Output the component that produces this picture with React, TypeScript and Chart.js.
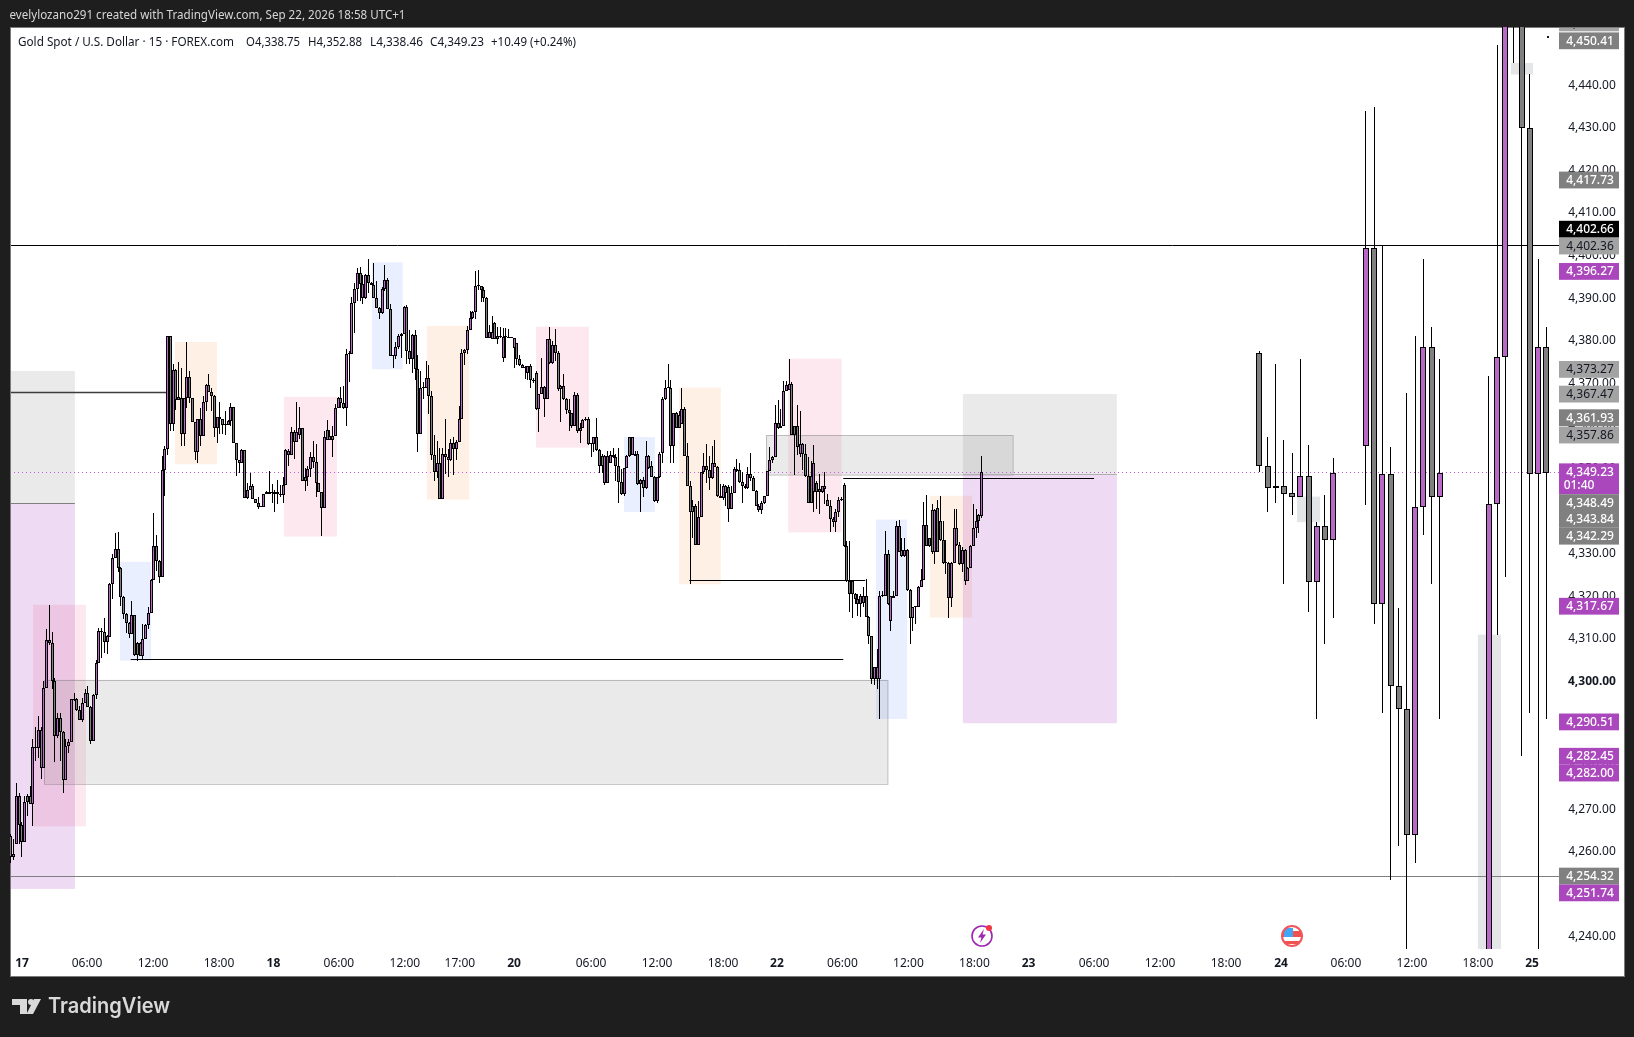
import { useEffect, useRef } from "react";
import { Chart, registerables } from "chart.js";

Chart.register(...registerables);

// 15m candles
const opens = [
  4263.8, 4258.7, 4261.8, 4273.1, 4266.3, 4262.4, 4273.2, 4273.2, 4271.3, 4284.7, 4284.3, 4288.6, 4279.8, 4298.4, 4309.7, 4309,
  4300, 4287.1, 4291.4, 4288.2, 4276.8, 4284.8, 4285.7, 4295.8, 4295.8, 4293.3, 4291, 4294.9, 4297.2, 4294, 4286.1, 4296.8,
  4304.3, 4311.9, 4311.7, 4309.2, 4310.5, 4322.8, 4328.9, 4331, 4326.7, 4319.9, 4315.8, 4313.7, 4311.2, 4315.5, 4309, 4309,
  4306, 4309.9, 4313.2, 4316, 4323.8, 4331.8, 4328.3, 4324.6, 4349.6, 4354.5, 4381.1, 4360.4, 4373.1, 4366.7, 4366.5, 4358,
  4366.5, 4371.5, 4366.5, 4360.9, 4353.8, 4361.6, 4357.7, 4365.6, 4369.6, 4367.9, 4367.1, 4359.6, 4362, 4361.6, 4360.3, 4360.2,
  4361.2, 4364.4, 4355.9, 4352, 4351.2, 4354.3, 4343, 4344.9, 4345.8, 4342.9, 4341.9, 4341.1, 4341, 4344, 4344.4, 4344.4,
  4344.6, 4344.6, 4344, 4343.7, 4346.1, 4354.2, 4353.1, 4358.5, 4356.2, 4357.8, 4359.6, 4347.9, 4347.9, 4350, 4352.6, 4351.5,
  4346.5, 4344.4, 4340.7, 4359, 4356.7, 4357.6, 4357.6, 4364.3, 4366.5, 4365.3, 4364.3, 4376.8, 4377, 4388.8, 4392.1, 4395.9,
  4390.1, 4390.1, 4395.5, 4393.5, 4393, 4390.1, 4387.6, 4386.5, 4392.1, 4394.2, 4387.4, 4376.5, 4376.4, 4378.6,
  4381, 4381.5, 4388, 4377.5, 4375.7, 4381.3, 4373.3, 4358.1, 4368.9, 4368.8, 4371.2, 4367.1, 4353.1, 4349.1, 4351.3, 4342.8,
  4353.4, 4352.6, 4352, 4356, 4354.5, 4356.3, 4361.6, 4377.2, 4377.8, 4382.5, 4385.3, 4386.7, 4392.9, 4392.8, 4391.9, 4390.1,
  4380.6, 4380.4, 4384.1, 4381, 4381, 4375.9, 4381.2, 4380.9, 4380.7, 4378.4, 4379.4, 4375.7, 4374.3, 4373.7, 4372.5, 4374,
  4370.7, 4372.5, 4363.9, 4367.6, 4369.2, 4366.3, 4380.4, 4374.7, 4379, 4377.2, 4368.6, 4369.4, 4366.3, 4363.7, 4363, 4359.9,
  4367.2, 4358.7, 4359.6, 4361.3, 4361.6, 4355.8, 4355.7, 4357.3, 4354.3, 4353, 4346.7, 4353, 4351.4, 4353.2, 4352.7, 4350.6,
  4346.8, 4344, 4350.1, 4357.4, 4353.2, 4353.5, 4353.5, 4346.3, 4347.3, 4345.4, 4353, 4350.6, 4348.1, 4342.3, 4347.9,
  4353.6, 4366.3, 4369, 4368.9, 4355.2, 4363, 4362.6, 4360.4, 4364, 4353, 4346, 4341.3, 4341.3, 4332, 4338.5, 4349.1,
  4350.5, 4349.6, 4347.8, 4351.3, 4350.4, 4343.6, 4343, 4345.8, 4345.6, 4340.5, 4344.2, 4349.9, 4349.6, 4346.9, 4345.4, 4345.4,
  4348.7, 4347.8, 4344.8, 4341.1, 4340.2, 4341.9, 4343.5, 4349.3, 4352, 4352.6, 4360.8, 4360, 4360, 4368.1, 4368.4, 4369.8,
  4359.9, 4360, 4353.4, 4355.7, 4353.4, 4348.3, 4348.3, 4344.6, 4346.7, 4345.2, 4344.4, 4345.8, 4342.6, 4341.3, 4338.1, 4337.4,
  4339.9, 4342.6, 4346.1, 4331.9, 4323.6, 4323.6, 4320.5, 4319.4, 4318.2, 4320, 4320, 4315.2, 4310.7, 4300.7, 4303.5, 4300.7,
  4320.1, 4320, 4329.9, 4314.1, 4320.1, 4320, 4336.5, 4330.9, 4329.5, 4330.9, 4321.5, 4314.8, 4317.5, 4317.4, 4322.3, 4323.8,
  4336.7, 4333.7, 4340.2, 4330.3, 4340.7, 4337.7, 4333.3, 4327.9, 4327.8, 4319.7, 4327.8, 4336, 4332, 4327.6, 4330.9, 4323.5,
  4326.6, 4331.7, 4336, 4339.1, 4338.75,
];
const highs = [
  4264.2, 4263, 4276.1, 4273.8, 4266.9, 4273.1, 4273.6, 4275.5, 4286.4, 4289.3, 4292, 4289.2, 4300, 4312.3, 4318, 4311.6,
  4300.8, 4292.7, 4292.5, 4288.4, 4286.4, 4286.4, 4295.8, 4297.3, 4296.2, 4294.3, 4296.2, 4298.2, 4299, 4294.3, 4297, 4305,
  4312.5, 4312.5, 4314.8, 4310.8, 4323.1, 4329.9, 4334.9, 4335.1, 4326.9, 4320, 4316, 4314, 4318.9, 4315.5, 4309.2, 4309.2,
  4313.4, 4313.4, 4317.5, 4324, 4339.6, 4334.4, 4328.5, 4353, 4355.3, 4381.2, 4381.2, 4374.5, 4373.4, 4375, 4373.7, 4366.6,
  4379.7, 4372.8, 4366.6, 4361, 4361.7, 4364.2, 4367, 4369.8, 4372.2, 4369, 4367.2, 4362, 4365.6, 4361.7, 4363.5, 4361.5,
  4365.3, 4364.5, 4356.1, 4352.1, 4354.5, 4354.3, 4346.6, 4349, 4346.3, 4342.9, 4343.2, 4341.2, 4344.1, 4344.8, 4349.5, 4346.3,
  4345, 4347.3, 4346.1, 4348, 4354.5, 4354.5, 4359.8, 4359, 4365.7, 4364.5, 4359.6, 4350.2, 4350.6, 4353.8, 4356.5, 4355.7,
  4346.5, 4344.6, 4358.7, 4361.4, 4359, 4360, 4365.1, 4366.7, 4369.2, 4369.4, 4378, 4377.6, 4390.3, 4393.5, 4397, 4397.2,
  4395.5, 4395.6, 4399.1, 4393.9, 4398.3, 4394, 4387.8, 4392.5, 4397.8, 4394.8, 4388.6, 4376.6, 4379.6, 4381.5,
  4381.9, 4388.2, 4388.3, 4382.6, 4381.5, 4382.5, 4376.7, 4372.9, 4370.4, 4375.3, 4374.3, 4368.2, 4357.8, 4356.5, 4354.9, 4354.8,
  4361.6, 4354.5, 4356.9, 4357.3, 4356.7, 4364.7, 4378, 4378, 4383.5, 4387, 4387, 4396.4, 4396.6, 4392.8, 4392.6, 4390.3,
  4383.7, 4385.8, 4384.3, 4383.3, 4383.3, 4383.1, 4382.9, 4382.7, 4380.8, 4380.6, 4379.4, 4376.7, 4374.5, 4374.1, 4374.1, 4374.5,
  4371.3, 4372.9, 4367.6, 4375.9, 4369.4, 4380.4, 4383.3, 4380, 4382.7, 4377.6, 4369.6, 4372.3, 4366.5, 4366.3, 4363, 4368,
  4367.8, 4360.8, 4361.6, 4362, 4362, 4355.9, 4357.4, 4361.8, 4354.5, 4353.4, 4353.2, 4354.1, 4354.1, 4354.9, 4353.4, 4354.9,
  4349.8, 4350.2, 4353.2, 4357.4, 4357.4, 4354.1, 4354.1, 4347.5, 4347.9, 4356.5, 4353.2, 4351.8, 4348.3, 4348.1, 4353.8,
  4366.9, 4370.8, 4374.5, 4370.8, 4363, 4363.2, 4363.6, 4368.9, 4364.4, 4356, 4347.1, 4342.6, 4341.7, 4342.4, 4349.2, 4353.6,
  4355.7, 4353, 4355.4, 4356.7, 4350.7, 4346.4, 4346.4, 4346.2, 4346.2, 4346, 4350.4, 4352.2, 4351.2, 4349.1, 4346.4, 4350.4,
  4353.6, 4348.3, 4344.9, 4341.7, 4342.4, 4343.6, 4349.5, 4355, 4353, 4364.9, 4366, 4364, 4370.5, 4370.6, 4375.7, 4370.2,
  4360, 4365, 4363.6, 4356.1, 4355.7, 4352.6, 4351.8, 4355.6, 4347.1, 4348.7, 4346, 4349.1, 4344, 4342.6, 4338.5, 4340.5,
  4343.2, 4343.2, 4346.5, 4333, 4333, 4323.7, 4320.7, 4320.5, 4320.5, 4322.3, 4324, 4315.4, 4310.7, 4303.5, 4307.6, 4321.3,
  4321.3, 4335.4, 4330.9, 4320.1, 4321.3, 4337.7, 4337.9, 4333.8, 4333.8, 4331.1, 4321.7, 4317.6, 4317.6, 4322.5, 4326.4, 4342.2,
  4343.8, 4333.8, 4341.7, 4340.5, 4342.6, 4343.6, 4337.7, 4333.3, 4328, 4328, 4340.4, 4340.5, 4332.7, 4331.5, 4331.1, 4326.8,
  4332, 4341.7, 4340.5, 4339.3, 4352.88,
];
const lows = [
  4257.4, 4258, 4261.8, 4261.8, 4258.7, 4262.4, 4268.4, 4271.3, 4266.1, 4281.4, 4282, 4277, 4279.8, 4298.4, 4308.6, 4298.2,
  4281, 4286.8, 4281.4, 4273.9, 4276.8, 4283.1, 4285.7, 4295.4, 4293.1, 4291, 4290.4, 4294.9, 4293.9, 4285.4, 4286.1, 4296,
  4304.3, 4305.6, 4306.6, 4306.4, 4310.5, 4319.3, 4328.9, 4325.6, 4317.7, 4314.6, 4311.5, 4310.2, 4311.2, 4306, 4304.8, 4306,
  4305.2, 4309.9, 4312.3, 4316, 4323.8, 4326, 4323.2, 4324.6, 4343.6, 4353.2, 4358.9, 4358.9, 4363.7, 4366, 4355.3, 4355.3,
  4364.2, 4365.3, 4360.9, 4352, 4351.2, 4355.3, 4357.7, 4363.4, 4367.9, 4363.5, 4357.3, 4355.9, 4358, 4358, 4357.8, 4360.2,
  4360, 4355.9, 4348.3, 4349, 4351.2, 4343, 4342.8, 4344.9, 4342.9, 4341.9, 4340.5, 4341, 4341, 4344, 4344, 4341.8,
  4339.7, 4341.6, 4343.3, 4342, 4346.1, 4350.6, 4353.1, 4352.2, 4356.2, 4356.9, 4347, 4344.8, 4345.8, 4348, 4350.2, 4343.2,
  4344.4, 4334.2, 4340.7, 4356.7, 4356.7, 4352.7, 4357.6, 4364.3, 4364.3, 4363.9, 4360, 4370.4, 4377, 4381.7, 4389.4, 4389.4,
  4388.7, 4389.8, 4391.3, 4393, 4390.1, 4387.6, 4385, 4386.2, 4391.7, 4387.4, 4376.4, 4373.6, 4375.7, 4378,
  4376, 4381.5, 4374.5, 4374.5, 4372.5, 4370.7, 4353.8, 4358.1, 4366.3, 4368.8, 4362.9, 4352, 4347.1, 4347.7, 4342.8, 4342.8,
  4348.7, 4347.9, 4351.8, 4348.5, 4352, 4356.3, 4361.6, 4374.3, 4376.8, 4382.5, 4385.2, 4385.2, 4391.9, 4389, 4389, 4380.6,
  4380.6, 4380.4, 4380.4, 4379.2, 4380.6, 4374.9, 4376, 4380.6, 4380.6, 4373.6, 4374.3, 4374.1, 4373.6, 4371, 4370.7, 4368.8,
  4370.1, 4363.7, 4358.5, 4367.6, 4362.2, 4366.3, 4374.5, 4374.5, 4375.3, 4368.2, 4361, 4366.1, 4362.8, 4358.8, 4359.6, 4359.9,
  4358.4, 4355.9, 4359.4, 4361.2, 4355.5, 4352.6, 4353.8, 4354.1, 4349, 4349, 4346.2, 4346.7, 4351.4, 4352.4, 4347.1, 4341.8,
  4343.8, 4343.5, 4350.1, 4352.7, 4353.2, 4353, 4346.2, 4339.9, 4343.2, 4345.2, 4350, 4347.9, 4342.2, 4341.8, 4347.7,
  4351.4, 4366.1, 4368.9, 4351.4, 4351.2, 4359.5, 4359.5, 4360.4, 4353, 4346, 4322.8, 4333.8, 4332, 4332, 4338.5, 4348.7,
  4346.5, 4345, 4347.5, 4350.4, 4343.2, 4343, 4342.7, 4341.3, 4337.4, 4340.5, 4344.2, 4349.1, 4346.7, 4342, 4345.2, 4345.2,
  4347.1, 4344.8, 4341.1, 4339.7, 4339.3, 4341.7, 4343.5, 4349.3, 4351.4, 4352.6, 4359.3, 4359.5, 4360, 4368.1, 4368.4, 4357.9,
  4348.5, 4353.2, 4352.6, 4349.6, 4347.9, 4342, 4342, 4339.9, 4340.5, 4339.3, 4344.2, 4341.7, 4341.3, 4335, 4336.2, 4335,
  4338.5, 4342.4, 4331.6, 4323.3, 4316.2, 4315, 4318.2, 4315.4, 4315.2, 4317.6, 4315.2, 4308.8, 4299.4, 4299.2, 4298.2, 4291.3,
  4319.8, 4320, 4318, 4311.9, 4319.7, 4320, 4330.3, 4329.3, 4329.3, 4321.3, 4308.9, 4311.9, 4313.6, 4317.4, 4322.3, 4323.8,
  4331.7, 4331.5, 4329.9, 4327.7, 4330.3, 4333, 4327.6, 4325.2, 4315, 4317.6, 4327.8, 4331.9, 4327.4, 4325.6, 4322.6, 4323.5,
  4326.6, 4331.7, 4333.8, 4334.9, 4338.46,
];
const closes = [
  4258.7, 4259.5, 4273.1, 4266.3, 4262.4, 4271.6, 4271.6, 4271.3, 4284.7, 4284.3, 4288.6, 4279.8, 4298.4, 4309.7, 4309, 4300,
  4287.1, 4291.4, 4288.2, 4276.8, 4284.8, 4285.7, 4295.8, 4295.7, 4293.3, 4291, 4294.9, 4297.2, 4294, 4286.1, 4296.8, 4304.3,
  4311.9, 4311.7, 4309.2, 4310.6, 4322.8, 4328.9, 4331, 4326.7, 4319.9, 4315.8, 4313.7, 4311.2, 4315.5, 4306.2, 4306.2, 4306,
  4309.9, 4313.2, 4316, 4323.8, 4331.8, 4328.2, 4324.6, 4349.6, 4354.5, 4381.1, 4360.4, 4373.1, 4366, 4366, 4358, 4366.5,
  4371.5, 4366.5, 4360.9, 4353.8, 4361.6, 4357.7, 4365.6, 4369.6, 4367.9, 4367.1, 4359.6, 4362, 4361.6, 4360.2, 4360.2, 4361.2,
  4364.4, 4355.9, 4352, 4351.2, 4354.3, 4343, 4344.9, 4345.8, 4342.9, 4341.9, 4341, 4341, 4344, 4344.4, 4344, 4344.3,
  4344, 4344, 4343.8, 4346.1, 4354.3, 4353.1, 4358.5, 4356.2, 4358.5, 4359.6, 4347, 4347, 4350, 4352.6, 4351.5, 4346.5,
  4344.4, 4340.7, 4357.3, 4356.7, 4357.6, 4356.7, 4364.3, 4366.5, 4365.3, 4364.3, 4376.8, 4377, 4388.8, 4392.1, 4395.9, 4393.3,
  4393.3, 4395.5, 4393.5, 4393, 4390.1, 4387.6, 4386.5, 4392.1, 4394.2, 4387.4, 4376.4, 4376.4, 4378.6, 4381,
  4381.5, 4388, 4377.5, 4375.7, 4381.3, 4373.3, 4358.1, 4368.8, 4368.8, 4371.2, 4367.1, 4353.1, 4349.1, 4351.3, 4342.8, 4353.4,
  4352.6, 4352, 4356, 4354.5, 4356.3, 4361.6, 4377.2, 4377.8, 4382.5, 4385.3, 4386.7, 4392.8, 4392.8, 4391.9, 4390.1, 4380.6,
  4382, 4382, 4380.4, 4380.4, 4380.9, 4380.9, 4380.8, 4380.7, 4380.6, 4380.6, 4375.7, 4374.3, 4373.6, 4373.6, 4374, 4370.7,
  4370.6, 4363.9, 4367.6, 4369.2, 4366.3, 4380.4, 4374.7, 4379, 4377.2, 4368.6, 4369.4, 4366.3, 4363.7, 4363, 4359.9, 4367.2,
  4358.7, 4359.6, 4361.3, 4361.6, 4355.7, 4355.7, 4357.3, 4354.3, 4350.6, 4350.6, 4353, 4346.7, 4353.2, 4352.6, 4350.6, 4346.8,
  4344, 4350.1, 4353, 4353, 4357.4, 4353, 4346.3, 4347.3, 4345.4, 4353, 4350.2, 4348.1, 4342.3, 4347.9, 4353.5,
  4366.3, 4368.9, 4368.9, 4355.2, 4363, 4359.5, 4359.5, 4364, 4353, 4346, 4339.9, 4339.9, 4332, 4338.5, 4349.1, 4350.5,
  4349.6, 4347.8, 4351.3, 4350.4, 4343.6, 4343, 4345.8, 4344.2, 4340.5, 4344.2, 4349.9, 4349.5, 4346.9, 4346, 4346, 4348.7,
  4347.8, 4344.8, 4341.1, 4340.2, 4341.9, 4343.5, 4349.3, 4352, 4352.6, 4360.8, 4359.5, 4359.5, 4368.1, 4369.7, 4369.8, 4357.9,
  4357.9, 4355.1, 4355.7, 4353.4, 4348.3, 4342, 4342, 4351.3, 4344.6, 4344.4, 4345.8, 4345.3, 4341.3, 4338.1, 4337.4, 4339.9,
  4342.6, 4342.7, 4331.9, 4323.6, 4320.5, 4320.5, 4319.4, 4318.2, 4320.1, 4318.5, 4315.2, 4310.7, 4300.7, 4303.5, 4300.7, 4320,
  4320, 4329.9, 4318.2, 4320, 4319.7, 4336.5, 4330.5, 4329.5, 4330.9, 4321.5, 4314.8, 4317.4, 4317.4, 4322.3, 4323.8, 4336.7,
  4331.7, 4331.7, 4330.3, 4340.2, 4330.5, 4333.3, 4327.8, 4327.8, 4319.7, 4327.8, 4336, 4332, 4327.6, 4330.9, 4323.5, 4326.6,
  4331.7, 4336, 4337.7, 4337.7, 4349.23,
];

// projected bars pattern on the right, one slot = 3 candles
const patternSlots = [0, 1, 2, 3, 4, 5, 6, 7, 8, 9, 13, 14, 15, 16, 17, 18, 19, 20, 21, 22, 28, 29, 30, 31, 32, 33, 34, 35];
const patternOpens = [4377.1, 4350.6, 4345.4, 4345.9, 4344.2, 4343.2, 4348.2, 4323.3, 4336.5, 4333.2, 4355.3, 4401.7, 4318.1, 4348.7, 4298.9, 4293.5, 4264, 4341, 4378.5, 4343.3, 4225, 4341.6, 4376.2, 4460, 4462, 4430, 4348.7, 4378.5];
const patternHighs = [4377.6, 4357.4, 4374.5, 4356.7, 4353.6, 4375.7, 4355.6, 4337.5, 4343.8, 4352.4, 4434, 4434.9, 4402.2, 4355.1, 4317.3, 4367.8, 4381.1, 4399.2, 4383.2, 4375.7, 4371.7, 4449.5, 4475, 4470, 4470, 4442.6, 4399.2, 4383.2];
const patternLows = [4349.1, 4339.9, 4341.8, 4322.8, 4339.2, 4343.2, 4316.2, 4291.3, 4308.9, 4315, 4341.4, 4313.6, 4292.5, 4253.5, 4261.3, 4236, 4257.5, 4334.4, 4322.8, 4291.3, 4220, 4311, 4324.6, 4445.3, 4282.4, 4292.5, 4230, 4291.3];
const patternCloses = [4350.6, 4345.4, 4345.9, 4344.1, 4343.2, 4348.2, 4323.3, 4336.5, 4333.2, 4348.9, 4401.7, 4318.1, 4348.7, 4298.9, 4293.5, 4264, 4340.9, 4378.5, 4343.3, 4348.9, 4341.6, 4376.2, 4470, 4465, 4430, 4348.7, 4378.5, 4348.9];

const yTicks = [4240, 4250, 4260, 4270, 4280, 4290, 4300, 4310, 4320, 4330, 4340, 4350, 4360, 4370, 4380, 4390, 4400, 4410, 4420, 4430, 4440, 4450];
const xTickBars = [4.4, 28, 52, 76, 95.8, 119.6, 143.6, 163.6, 183.3, 211.3, 235.3, 259.3, 278.9, 302.7, 326.7, 350.7, 370.4, 394.2, 418.2, 442.2, 462.2, 485.8, 509.8, 533.8, 553.5];
const xTickLabels = ["17", "06:00", "12:00", "18:00", "18", "06:00", "12:00", "17:00", "20", "06:00", "12:00", "18:00", "22", "06:00", "12:00", "18:00", "23", "06:00", "12:00", "18:00", "24", "06:00", "12:00", "18:00", "25"];

// drawings on the chart
const zoneKinds = ["gray", "purple", "pink", "box", "blue", "orange", "pink", "blue", "orange", "pink", "blue", "orange", "pink", "blue", "orange", "box", "gray", "purple", "plain", "plain", "plain"];
const zoneStarts = [0, 0, 8.4, 12.5, 40, 60, 99.6, 131.6, 151.6, 191.3, 223.3, 243.3, 283, 314.9, 334.5, 275, 346.5, 346.5, 545.8, 468, 533.8];
const zoneEnds = [23.6, 23.6, 27.6, 319.2, 51.3, 75.3, 118.9, 142.8, 167, 210.5, 234.5, 258.5, 302.4, 326.2, 349.8, 364.7, 402.5, 402.5, 553.8, 476.4, 542.2];
const zoneTops = [4372.9, 4341.9, 4318, 4300.4, 4328.1, 4379.7, 4366.8, 4398.4, 4383.5, 4383.3, 4357.4, 4369, 4375.8, 4338, 4343.6, 4357.8, 4367.5, 4348.6, 4445.2, 4343.4, 4311];
const zoneBottoms = [4341.9, 4251.3, 4266, 4276, 4304.9, 4351, 4334, 4373.3, 4342.7, 4354.9, 4339.8, 4322.8, 4335, 4291.2, 4315, 4348.5, 4348.6, 4290.2, 4442.5, 4337.4, 4236];

const levelPrices = [4402.5, 4254.32, 4368, 4305.3, 4323.8, 4347.7, 4341.9, 4348.6];
const levelStarts = [0, 0, 0, 43.9, 247, 303, 0, 346.5];
const levelEnds = [563.6, 563.6, 57, 303, 311, 394.2, 23.6, 402.5];
const levelKinds = ["black", "gray", "heavy", "black", "black", "black", "gray", "faint"];
const lastPrice = 4349.23;

const tagPrices = [4454.61, 4450.41, 4417.73, 4402.66, 4402.36, 4396.27, 4373.27, 4367.47, 4361.93, 4357.86, 4349.23, 4348.49, 4343.84, 4342.29, 4317.67, 4290.51, 4282.45, 4282.0, 4254.32, 4251.74];
const tagKinds = ["light", "gray", "gray", "black", "light", "purple", "light", "light", "gray", "light", "purple", "gray", "gray", "gray", "purple", "purple", "purple", "purple", "gray", "purple"];

const FONT = '"Noto Sans", sans-serif';
const PURPLE = "#ba68c8";
const GRAY = "#808080";
const X_MAX = 563.64;
const BAR_OFFSET = 0.345;
const PATTERN_START = 454.3;
const PATTERN_STEP = 2.982;

const zoneFill: Record<string, string> = {
  gray: "rgba(128,128,128,0.17)",
  box: "rgba(128,128,128,0.17)",
  plain: "rgba(120,123,134,0.2)",
  purple: "rgba(171,71,188,0.2)",
  pink: "rgba(233,30,99,0.1)",
  blue: "rgba(41,98,255,0.1)",
  orange: "rgba(255,109,0,0.1)",
};
const levelStyle: Record<string, [string, number]> = {
  black: ["#000000", 1],
  gray: ["#808080", 1],
  heavy: ["#3c3c3c", 1.5],
  faint: ["#b0b0b0", 1],
};
const tagFill: Record<string, [string, string]> = {
  gray: ["#808080", "#ffffff"],
  light: ["#a3a3a3", "#131722"],
  black: ["#000000", "#ffffff"],
  purple: ["#ab47bc", "#ffffff"],
};

const fmt = (v: number) => v.toLocaleString("en-US", { minimumFractionDigits: 2, maximumFractionDigits: 2 });

// keep candles on whole pixels so they stay as crisp as the original
const snapBars = {
  id: "snapBars",
  afterDatasetsUpdate(chart: any) {
    chart.data.datasets.forEach((_: any, i: number) => {
      chart.getDatasetMeta(i).data.forEach((el: any) => {
        const w = Math.round(el.width);
        el.width = w;
        el.x = w % 2 === 0 ? Math.round(el.x) : Math.floor(el.x) + 0.5;
        el.y = Math.round(el.y);
        el.base = Math.round(el.base);
        if (Math.abs(el.y - el.base) < 1) el.y = el.base - 1;
      });
    });
  },
};

const frame = {
  id: "frame",
  beforeDraw(chart: any) {
    const { ctx } = chart;
    ctx.save();
    ctx.fillStyle = "#1e1e1e";
    ctx.fillRect(0, 0, 1634, 1037);
    ctx.fillStyle = "#ffffff";
    ctx.fillRect(11, 28, 1613, 948);
    ctx.strokeStyle = "#7a7a7a";
    ctx.lineWidth = 1;
    ctx.strokeRect(10.5, 27.5, 1614, 949);
    ctx.restore();
  },
  beforeDatasetsDraw(chart: any) {
    const { ctx, chartArea, scales } = chart;
    const { x, y } = scales;
    ctx.save();
    ctx.beginPath();
    ctx.rect(chartArea.left + 1, chartArea.top + 1, chartArea.width - 1, chartArea.height - 1);
    ctx.clip();
    zoneKinds.forEach((kind, i) => {
      const left = x.getPixelForValue(zoneStarts[i]);
      const right = x.getPixelForValue(zoneEnds[i]);
      const top = y.getPixelForValue(zoneTops[i]);
      const bottom = y.getPixelForValue(zoneBottoms[i]);
      ctx.fillStyle = zoneFill[kind];
      ctx.fillRect(left, top, right - left, bottom - top);
      if (kind === "box") {
        ctx.strokeStyle = "rgba(110,110,110,0.4)";
        ctx.lineWidth = 1;
        ctx.strokeRect(Math.round(left) + 0.5, Math.round(top) + 0.5, right - left, bottom - top);
      }
    });
    levelPrices.forEach((price, i) => {
      const py = Math.round(y.getPixelForValue(price)) + 0.5;
      const [colour, width] = levelStyle[levelKinds[i]];
      ctx.beginPath();
      ctx.moveTo(x.getPixelForValue(levelStarts[i]), py);
      ctx.lineTo(x.getPixelForValue(levelEnds[i]), py);
      ctx.strokeStyle = colour;
      ctx.lineWidth = width;
      ctx.stroke();
    });
    const lastY = Math.round(y.getPixelForValue(lastPrice)) + 0.5;
    ctx.beginPath();
    ctx.setLineDash([1, 3]);
    ctx.lineWidth = 1;
    ctx.moveTo(chartArea.left, lastY);
    ctx.lineTo(chartArea.right, lastY);
    ctx.strokeStyle = "#c35fd6";
    ctx.stroke();
    ctx.restore();
  },
  afterDraw(chart: any) {
    const { ctx, scales } = chart;
    const { y } = scales;
    ctx.save();
    ctx.textBaseline = "middle";

    // header and legend
    ctx.fillStyle = "#d6d6d6";
    ctx.font = `12px ${FONT}`;
    ctx.fillText("evelylozano291 created with TradingView.com, Sep 22, 2026 18:58 UTC+1", 9.5, 16, 396);
    ctx.fillStyle = "#131722";
    ctx.fillText("Gold Spot / U.S. Dollar · 15 · FOREX.com", 18, 43, 216);
    ctx.fillText("O4,338.75", 246, 43, 54);
    ctx.fillText("H4,352.88", 308, 43, 54);
    ctx.fillText("L4,338.46", 370, 43, 53);
    ctx.fillText("C4,349.23", 430, 43, 54);
    ctx.fillText("+10.49 (+0.24%)", 491, 43, 85);

    // price tags on the axis, pushed apart like the original
    ctx.beginPath();
    ctx.rect(11, 28, 1613, 948);
    ctx.clip();
    const H = 16.8;
    let nextTop = -100;
    tagPrices.forEach((price, i) => {
      const kind = tagKinds[i];
      let cy = y.getPixelForValue(price);
      if (kind === "black") cy -= 15;
      else cy = Math.max(cy, nextTop + H / 2);
      const isLast = price === lastPrice;
      const h = isLast ? H + 14 : H;
      ctx.fillStyle = tagFill[kind][0];
      ctx.fillRect(1559, cy - H / 2, 60, h);
      ctx.fillStyle = tagFill[kind][1];
      ctx.font = `${tagFill[kind][1] === "#ffffff" ? "500 " : ""}12px ${FONT}`;
      ctx.textAlign = "center";
      ctx.fillText(fmt(price), 1590, cy + 0.5);
      if (isLast) ctx.fillText("01:40", 1579, cy + 14);
      nextTop = cy - H / 2 + h;
    });
    ctx.textAlign = "left";

    // stray dot top right
    ctx.fillStyle = "#131722";
    ctx.fillRect(1547, 36, 2, 2);

    // session icons
    ctx.lineWidth = 1.6;
    ctx.strokeStyle = "#9c27b0";
    ctx.beginPath();
    ctx.arc(982, 936, 10, 0, Math.PI * 2);
    ctx.stroke();
    ctx.fillStyle = "#9c27b0";
    ctx.beginPath();
    ctx.moveTo(984, 929);
    ctx.lineTo(978, 937.5);
    ctx.lineTo(981.5, 937.5);
    ctx.lineTo(980, 943);
    ctx.lineTo(986, 934.5);
    ctx.lineTo(982.5, 934.5);
    ctx.closePath();
    ctx.fill();
    ctx.fillStyle = "#f23645";
    ctx.beginPath();
    ctx.arc(989, 928, 3, 0, Math.PI * 2);
    ctx.fill();

    ctx.save();
    ctx.beginPath();
    ctx.arc(1292, 936, 10, 0, Math.PI * 2);
    ctx.clip();
    ctx.fillStyle = "#ffffff";
    ctx.fillRect(1281, 925, 22, 22);
    ctx.fillStyle = "#ef5350";
    ctx.fillRect(1281, 931, 22, 6);
    ctx.fillRect(1281, 941, 22, 3);
    ctx.fillStyle = "#42a5f5";
    ctx.fillRect(1284, 928, 9, 9);
    ctx.restore();
    ctx.strokeStyle = "#f0565a";
    ctx.lineWidth = 2;
    ctx.beginPath();
    ctx.arc(1292, 936, 10, 0, Math.PI * 2);
    ctx.stroke();

    // TradingView mark
    ctx.restore();
    ctx.save();
    ctx.fillStyle = "#d9d9d9";
    ctx.fillRect(12, 999, 15, 6);
    ctx.fillRect(20, 999, 7, 15);
    ctx.beginPath();
    ctx.arc(31, 1002, 3, 0, Math.PI * 2);
    ctx.fill();
    ctx.beginPath();
    ctx.moveTo(33, 1014);
    ctx.lineTo(26.5, 1014);
    ctx.lineTo(34, 999);
    ctx.lineTo(41, 999);
    ctx.closePath();
    ctx.fill();
    ctx.font = `600 21px Inter, ${FONT}`;
    ctx.textBaseline = "middle";
    ctx.fillText("TradingView", 48, 1007, 122);
    ctx.restore();
  },
};

export default function App() {
  const canvasRef = useRef<HTMLCanvasElement>(null);

  useEffect(() => {
    if (!canvasRef.current) return;
    document.body.style.margin = "0";
    document.body.style.background = "#1e1e1e";

    const candleX = opens.map((_, k) => k + BAR_OFFSET);
    const patternX = patternSlots.map((s) => PATTERN_START + s * PATTERN_STEP);
    const colourOf = (o: number, c: number) => (c >= o ? PURPLE : GRAY);

    const chart = new Chart(canvasRef.current, {
      type: "bar",
      plugins: [snapBars, frame],
      data: {
        datasets: [
          {
            label: "wicks",
            data: candleX.map((x, i) => ({ x, y: [lows[i], highs[i]] })),
            backgroundColor: "#000000",
            barPercentage: 1,
            maxBarThickness: 1,
            order: 3,
          },
          {
            label: "bodies",
            data: candleX.map((x, i) => ({ x, y: [opens[i], closes[i]] })),
            backgroundColor: opens.map((o, i) => colourOf(o, closes[i])),
            borderColor: "#000000",
            borderWidth: 1,
            barPercentage: 1.5,
            maxBarThickness: 3,
            order: 2,
          },
          {
            label: "pattern wicks",
            data: patternX.map((x, i) => ({ x, y: [patternLows[i], patternHighs[i]] })),
            backgroundColor: "#000000",
            barPercentage: 1,
            maxBarThickness: 1,
            order: 1,
          },
          {
            label: "pattern bodies",
            data: patternX.map((x, i) => ({ x, y: [patternOpens[i], patternCloses[i]] })),
            backgroundColor: patternOpens.map((o, i) => colourOf(o, patternCloses[i])),
            borderColor: "#000000",
            borderWidth: 1,
            barPercentage: 5,
            maxBarThickness: 6,
            order: 0,
          },
        ] as any,
      },
      options: {
        responsive: false,
        animation: false,
        devicePixelRatio: 1,
        layout: { padding: { left: 10, top: 27, right: 16, bottom: 61 } },
        datasets: {
          bar: {
            grouped: false,
            borderSkipped: false,
            inflateAmount: 0,
            categoryPercentage: 1,
            minBarLength: 1,
          },
        } as any,
        plugins: { legend: { display: false }, tooltip: { enabled: false } },
        scales: {
          x: {
            type: "linear",
            min: 0,
            max: X_MAX,
            offset: false,
            grid: { display: false },
            border: { display: false },
            afterBuildTicks: (s: any) => {
              s.ticks = xTickBars.map((value) => ({ value }));
            },
            afterFit: (s: any) => {
              s.height = 27;
            },
            ticks: {
              autoSkip: false,
              maxRotation: 0,
              padding: -1,
              color: "#131722",
              font: (ctx: any) => {
                const label = xTickLabels[ctx.index] ?? "";
                return { family: FONT, size: 12, weight: label.length === 2 ? "bold" : "normal" };
              },
              callback: (_v: any, i: number) => xTickLabels[i],
            },
          },
          y: {
            position: "right",
            min: 4237.2,
            max: 4453.65,
            grid: { display: false },
            border: { display: false },
            afterBuildTicks: (s: any) => {
              s.ticks = yTicks.map((value) => ({ value }));
            },
            afterFit: (s: any) => {
              s.width = 58;
            },
            ticks: {
              autoSkip: false,
              crossAlign: "center",
              padding: 0,
              color: "#131722",
              font: (ctx: any) => ({
                family: FONT,
                size: 12,
                weight: ctx.tick?.value === 4300 ? "bold" : "normal",
              }),
              callback: (v: any) => fmt(Number(v)),
            },
          },
        },
      },
    });

    return () => {
      chart.destroy();
    };
  }, []);

  return (
    <div style={{ position: "fixed", left: 0, top: 0 }}>
      <canvas ref={canvasRef} width={1634} height={1037} style={{ display: "block" }} />
    </div>
  );
}
